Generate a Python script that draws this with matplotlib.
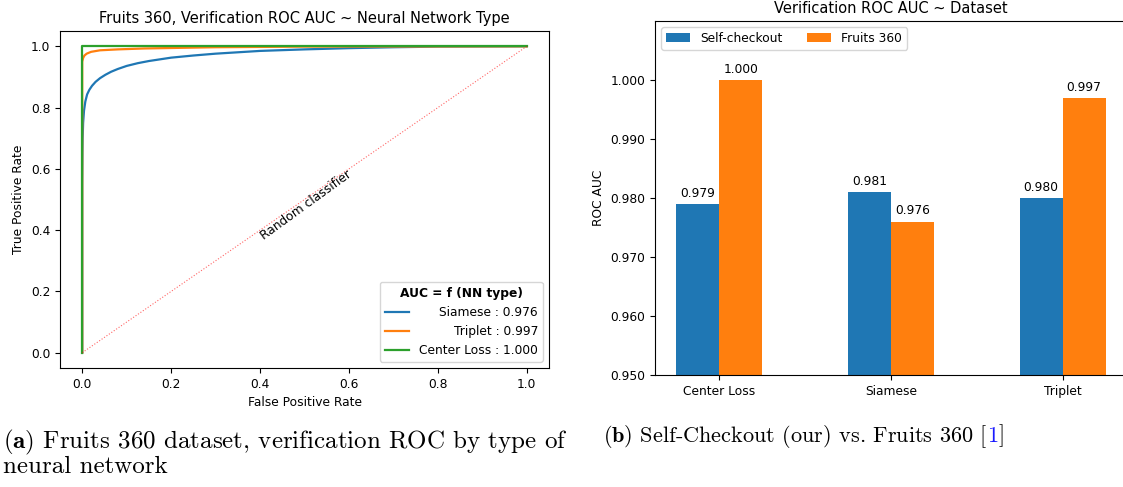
# library imports
import numpy as np
import matplotlib
matplotlib.use("Agg")
import matplotlib.pyplot as plt

plt.rcParams['mathtext.fontset'] = 'cm'

# ROC curves
siamese_fpr = [0.0, 0.0, 0.0005, 0.001, 0.002, 0.004, 0.007, 0.011, 0.016, 0.022, 0.03, 0.04, 0.052, 0.065,
               0.08, 0.1, 0.125, 0.15, 0.2, 0.25, 0.3, 0.4, 0.5, 0.6, 0.7, 0.8, 0.9, 1.0]
siamese_tpr = [0.0, 0.55, 0.65, 0.70, 0.75, 0.79, 0.82, 0.843, 0.858, 0.871, 0.884, 0.896, 0.907, 0.917,
               0.926, 0.936, 0.945, 0.952, 0.963, 0.970, 0.976, 0.985, 0.990, 0.994, 0.997, 0.999, 0.9995, 1.0]
triplet_fpr = [0.0, 0.0, 0.002, 0.005, 0.01, 0.02, 0.04, 0.08, 0.14, 0.3, 0.5, 1.0]
triplet_tpr = [0.0, 0.95, 0.962, 0.970, 0.976, 0.982, 0.987, 0.990, 0.993, 0.997, 0.999, 1.0]
center_fpr = [0.0, 0.0, 1.0]
center_tpr = [0.0, 1.0, 1.0]
roc_labels = ['Siamese : 0.976', 'Triplet : 0.997', 'Center Loss : 1.000']

# bar panel
nn_types = ['Center Loss', 'Siamese', 'Triplet']
self_checkout_auc = [0.979, 0.981, 0.980]
fruits_auc = [1.000, 0.976, 0.997]

W, H = 1123, 487
fs = 8.8      # tick / label size (reference is a shrunken 10pt figure)
fs_title = 10.5

fig = plt.figure(figsize=(W / 100, H / 100), dpi=100)
renderer = fig.canvas.get_renderer()

# ---- left: ROC curves
ax1 = fig.add_axes([60 / W, (H - 368) / H, 489 / W, 337 / H])
ax1.plot(siamese_fpr, siamese_tpr, color='#1f77b4', lw=1.6, label=roc_labels[0])
ax1.plot(triplet_fpr, triplet_tpr, color='#ff7f0e', lw=1.6, label=roc_labels[1])
ax1.plot(center_fpr, center_tpr, color='#2ca02c', lw=1.6, label=roc_labels[2])
ax1.plot([0, 1], [0, 1], color='red', ls=':', lw=0.8, alpha=0.6)
ax1.text(0.503, 0.482, 'Random classifier', rotation=36, rotation_mode='anchor',
         ha='center', va='center', fontsize=fs)
ax1.set_title('Fruits 360, Verification ROC AUC ~ Neural Network Type', fontsize=fs_title)
ax1.set_xlabel('False Positive Rate', fontsize=fs)
ax1.set_ylabel('True Positive Rate', fontsize=fs)
ax1.tick_params(labelsize=fs)

leg = ax1.legend(loc='lower right', title='AUC = f (NN type)', fontsize=fs,
                 title_fontproperties={'weight': 'bold', 'size': fs})
# right-align the legend labels
widths = [t.get_window_extent(renderer).width for t in leg.get_texts()]
shift = max(widths)
for t, w in zip(leg.get_texts(), widths):
    t.set_ha('right')
    t.set_position((shift - w, 0))

# ---- right: bars
ax2 = fig.add_axes([655 / W, (H - 375) / H, 472 / W, 354 / H])
x = np.arange(len(nn_types))
width = 0.25
b1 = ax2.bar(x - width / 2, self_checkout_auc, width, color='#1f77b4', label='Self-checkout')
b2 = ax2.bar(x + width / 2, fruits_auc, width, color='#ff7f0e', label='Fruits 360')
ax2.bar_label(b1, fmt='%.3f', padding=3, fontsize=fs)
ax2.bar_label(b2, fmt='%.3f', padding=3, fontsize=fs)
ax2.set_xticks(x)
ax2.set_xticklabels(nn_types)
ax2.set_xlim(-0.375, 2.375)
ax2.set_ylim(0.95, 1.01)
ax2.set_yticks([0.95, 0.96, 0.97, 0.98, 0.99, 1.0])
ax2.yaxis.set_major_formatter(matplotlib.ticker.FormatStrFormatter('%.3f'))
ax2.tick_params(labelsize=fs)
ax2.set_ylabel('ROC AUC', fontsize=fs)
ax2.set_title('Verification ROC AUC ~ Dataset', fontsize=fs_title)
ax2.legend(loc='upper left', ncol=2, fontsize=fs)

# ---- captions
cap_a = 18
cap_b = 16
fig.text(3 / W, 1 - 442 / H, r'$\mathbf{(a)}$ Fruits 360 dataset, verification ROC by type of',
         family='cmr10', fontsize=cap_a, va='center')
fig.text(3 / W, 1 - 467 / H, 'neural network', family='cmr10', fontsize=cap_a, va='center')

tb = fig.text(603 / W, 1 - 436 / H, r'$\mathbf{(b)}$ Self-Checkout (our) vs. Fruits 360 [',
              family='cmr10', fontsize=cap_b, va='center')
x_end = tb.get_window_extent(renderer).x1
t1 = fig.text(x_end / W, 1 - 436 / H, '1', family='cmr10', fontsize=cap_b, va='center', color='#1a1aff')
x_end = t1.get_window_extent(renderer).x1
fig.text(x_end / W, 1 - 436 / H, ']', family='cmr10', fontsize=cap_b, va='center')

fig.savefig('out.png', dpi=100)
